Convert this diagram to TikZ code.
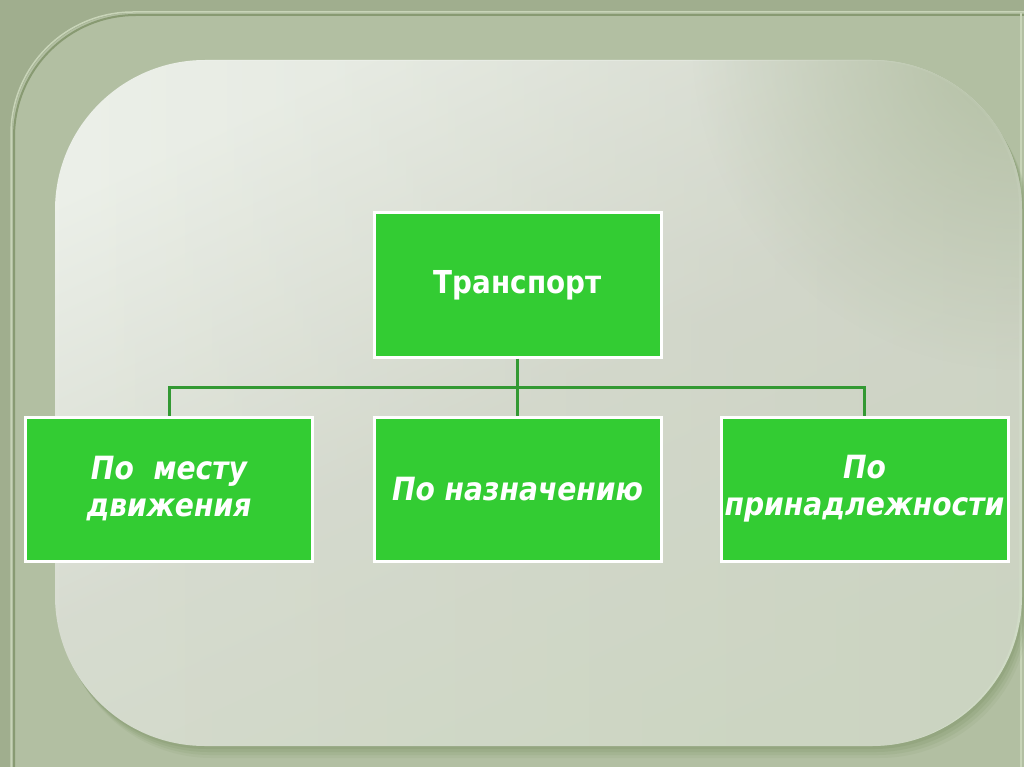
\documentclass[tikz,border=0pt]{standalone}
\usepackage{fontspec}
\setmainfont{DejaVu Sans}
\newfontfamily\boxfont[FakeStretch=0.88]{DejaVu Sans}
\usetikzlibrary{calc,fadings}
\tikzfading[name=softdisc, inner color=transparent!0, outer color=transparent!100]
\definecolor{bgout}{RGB}{160,174,142}
\definecolor{bgin}{RGB}{178,191,162}
\definecolor{ridgehi}{RGB}{200,212,184}
\definecolor{ridgelo}{RGB}{136,154,114}
\definecolor{panelA}{RGB}{236,240,233}
\definecolor{panelB}{RGB}{198,203,188}
\definecolor{panelC}{RGB}{208,219,198}
\definecolor{shadowc}{RGB}{120,145,98}
\definecolor{boxgreen}{RGB}{51,204,51}
\definecolor{linegreen}{RGB}{51,153,51}
\tikzset{
  gbox/.style={draw=white, line width=3pt, fill=boxgreen, minimum width=287pt, minimum height=144pt, inner sep=0pt, text=white, align=center},
  topbox/.style={gbox, font=\boxfont\bfseries\fontsize{31.6}{36}\selectfont},
  subbox/.style={gbox, font=\boxfont\bfseries\itshape\fontsize{32}{37}\selectfont},
  conn/.style={draw=linegreen, line width=3pt},
  panelpath/.style={rounded corners=150pt}
}
\begin{document}
\begin{tikzpicture}[x=1pt,y=-1pt]
\useasboundingbox (0,0) rectangle (1024,767);
\fill[bgout] (0,0) rectangle (1024,767);
\fill[bgin, rounded corners=122pt] (12,900) -- (12,13) -- (1200,13) -- (1200,900) -- cycle;
\draw[ridgelo, line width=2pt, rounded corners=122pt] (14,900) -- (14,15) -- (1200,15);
\draw[ridgehi, line width=1.5pt, rounded corners=122pt] (11,900) -- (11,12) -- (1200,12);
\draw[ridgehi, line width=1.5pt] (1021,13) -- (1021,900);
% panel shadow
\foreach \o/\op in {12/0.10, 9/0.14, 6/0.18, 3/0.22}{
  \fill[shadowc, opacity=\op, panelpath] ($(55,60)+(\o*0.6,\o)$) rectangle ($(1022,746)+(\o*0.6,\o)$);
}
% panel
\shade[panelpath, top color=panelA, bottom color=panelC, middle color=panelB!55!panelA, shading angle=25] (55,60) rectangle (1022,746);
\fill[panelB, opacity=0.45, panelpath, path fading=west] (55,60) rectangle (1022,746);
\begin{scope}
  \clip[panelpath] (55,60) rectangle (1022,746);
  \fill[bgin, path fading=softdisc] (1022,40) circle (330pt);
\end{scope}
% nodes
\node[topbox] (t) at (517.5,285) {Транспорт};
\node[subbox] (a) at (169,489) {По\ \ месту\\движения};
\node[subbox] (b) at (517.5,489) {По назначению};
\node[subbox] (c) at (864.5,489) {По\\принадлежности};
\coordinate (j) at (517.5,387);
\draw[conn] (t.south) -- (j) -- (b.north);
\draw[conn] (a.north) |- (j) -| (c.north);
\end{tikzpicture}
\end{document}
